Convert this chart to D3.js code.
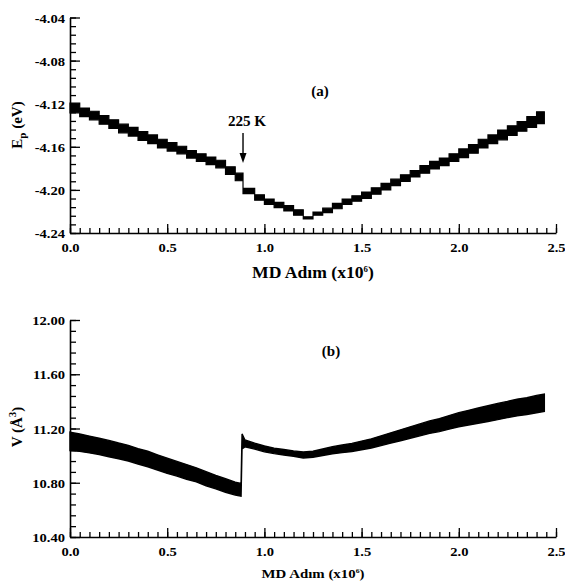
<!DOCTYPE html>
<html>
<head>
<meta charset="utf-8">
<script src="https://cdn.jsdelivr.net/npm/d3@7"></script>
<style>
  body { margin: 0; background: #fff; }
  svg { display: block; }
  text { font-family: "Liberation Serif", "Times New Roman", serif; font-weight: bold; fill: #000; }
</style>
</head>
<body>
<svg id="chart" width="565" height="584"></svg>
<script>
// x axis (MD steps, x10^6)
var xTicks = [0, 0.5, 1.0, 1.5, 2.0, 2.5];
var xTickLabels = ["0.0", "0.5", "1.0", "1.5", "2.0", "2.5"];

// panel (a): potential energy, stepped band (step start, middle, half thickness)
var epX = [0.00,0.05,0.10,0.15,0.20,0.25,0.30,0.35,0.40,0.45,0.50,0.55,0.60,0.65,0.70,0.75,0.80,0.85,
           0.89,0.95,1.00,1.05,1.10,1.15,1.20,1.25,1.30,1.35,1.40,1.45,1.50,1.55,1.60,1.65,1.70,1.75,
           1.80,1.85,1.90,1.95,2.00,2.05,2.10,2.15,2.20,2.25,2.30,2.35,2.40,2.44];
var epMid = [-4.124,-4.128,-4.131,-4.135,-4.139,-4.143,-4.146,-4.150,-4.153,-4.157,-4.160,-4.163,-4.167,-4.170,-4.173,-4.176,-4.182,-4.188,
             -4.201,-4.207,-4.211,-4.214,-4.217,-4.221,-4.226,-4.222,-4.219,-4.215,-4.211,-4.208,-4.205,-4.201,-4.197,-4.193,-4.189,-4.185,
             -4.181,-4.177,-4.174,-4.170,-4.166,-4.162,-4.157,-4.153,-4.149,-4.145,-4.141,-4.137,-4.133,-4.133];
var epHalf = [0.0045,0.004,0.004,0.004,0.004,0.004,0.004,0.004,0.004,0.004,0.004,0.0035,0.0035,0.0035,0.0035,0.0035,0.0035,0.0035,
              0.0025,0.0025,0.0025,0.0025,0.0025,0.0025,0.001,0.0015,0.002,0.0025,0.0025,0.0025,0.003,0.003,0.003,0.003,0.003,0.003,
              0.0035,0.0035,0.0035,0.0035,0.004,0.004,0.004,0.004,0.0045,0.0045,0.0045,0.005,0.0055,0.0055];
var epTicks = [-4.24, -4.20, -4.16, -4.12, -4.08, -4.04];
var epTickLabels = ["-4.24", "-4.20", "-4.16", "-4.12", "-4.08", "-4.04"];

// panel (b): volume band
var vX = [0.00,0.05,0.10,0.15,0.20,0.25,0.30,0.35,0.40,0.45,0.50,0.55,0.60,0.65,0.70,0.75,0.80,0.85,0.88,
          0.885,0.90,0.95,1.00,1.05,1.10,1.15,1.20,1.25,1.30,1.35,1.40,1.45,1.50,1.55,1.60,1.65,1.70,1.75,
          1.80,1.85,1.90,1.95,2.00,2.05,2.10,2.15,2.20,2.25,2.30,2.35,2.40,2.44];
var vMid = [11.105,11.095,11.082,11.068,11.052,11.035,11.018,10.995,10.975,10.950,10.925,10.903,10.880,10.858,10.830,10.805,10.780,10.757,10.748,
            11.105,11.090,11.070,11.050,11.035,11.025,11.015,11.005,11.010,11.025,11.040,11.050,11.060,11.075,11.090,11.110,11.130,11.150,11.170,
            11.190,11.210,11.225,11.245,11.265,11.280,11.295,11.310,11.325,11.340,11.355,11.365,11.380,11.390];
var vHalf = [0.068,0.064,0.062,0.06,0.06,0.058,0.058,0.057,0.057,0.056,0.056,0.054,0.054,0.052,0.052,0.05,0.05,0.048,0.047,
             0.055,0.025,0.022,0.022,0.02,0.02,0.02,0.022,0.022,0.024,0.026,0.028,0.03,0.032,0.034,0.036,0.038,0.04,0.042,
             0.044,0.046,0.048,0.05,0.052,0.054,0.056,0.058,0.06,0.06,0.062,0.062,0.064,0.064];
var vTicks = [10.40, 10.80, 11.20, 11.60, 12.00];
var vTickLabels = ["10.40", "10.80", "11.20", "11.60", "12.00"];

var svg = d3.select("#chart");

var x = d3.scaleLinear().domain([0, 2.5]).range([70, 556]);
var yEp = d3.scaleLinear().domain([-4.24, -4.04]).range([233, 17.5]);
var yV = d3.scaleLinear().domain([10.40, 12.00]).range([537, 320]);

//widen text a bit, the original print is stretched sideways
function stretch(sel, k){
    sel.each(function(){
        var w = this.getComputedTextLength();
        d3.select(this).attr("textLength", w * k).attr("lengthAdjust", "spacingAndGlyphs");
    });
}

function drawAxes(yScale, yTicks, yLabels, yMinorStep, baseY){
    var g = svg.append("g");

    //minor ticks
    var xMinor = d3.range(0, 2.5001, 0.05);
    g.append("g")
        .attr("transform", "translate(0," + baseY + ")")
        .call(d3.axisBottom(x).tickValues(xMinor).tickSize(-5).tickFormat(""))
        .call(function(a){ a.select(".domain").remove(); });
    var yMinor = d3.range(yTicks[0], yTicks[yTicks.length - 1] + yMinorStep / 2, yMinorStep);
    g.append("g")
        .attr("transform", "translate(70,0)")
        .call(d3.axisLeft(yScale).tickValues(yMinor).tickSize(-6).tickFormat(""))
        .call(function(a){ a.select(".domain").remove(); });

    //major ticks with labels
    g.append("g")
        .attr("transform", "translate(0," + baseY + ")")
        .call(d3.axisBottom(x).tickValues(xTicks).tickSizeInner(-9).tickSizeOuter(0).tickPadding(10)
            .tickFormat(function(d, i){ return xTickLabels[i]; }));
    var ay = g.append("g")
        .attr("transform", "translate(70,0)")
        .call(d3.axisLeft(yScale).tickValues(yTicks).tickSizeInner(-10).tickSizeOuter(0).tickPadding(5)
            .tickFormat(function(d, i){ return yLabels[i]; }));

    g.selectAll(".tick line").attr("stroke", "#000").attr("stroke-width", 1.3);
    g.selectAll(".domain").attr("stroke", "#000").attr("stroke-width", 1.6);
    g.selectAll(".tick text").attr("font-size", 13).attr("font-family", "Liberation Serif").attr("font-weight", "bold");
    ay.selectAll(".tick text").attr("dy", "0.36em");
    stretch(g.selectAll(".tick text"), 1.12);
}

drawAxes(yEp, epTicks, epTickLabels, 0.008, 233);
drawAxes(yV, vTicks, vTickLabels, 0.08, 537);

// panel (a) stepped band
var epData = epX.map(function(d, i){ return {x: d, lo: epMid[i] - epHalf[i], hi: epMid[i] + epHalf[i]}; });
var epArea = d3.area()
    .curve(d3.curveStepAfter)
    .x(function(d){ return x(d.x); })
    .y0(function(d){ return yEp(d.lo); })
    .y1(function(d){ return yEp(d.hi); });
svg.append("path")
    .datum(epData)
    .attr("d", epArea)
    .attr("fill", "#000")
    .attr("stroke", "#000")
    .attr("stroke-width", 1.2);

// panel (b) band
var vData = vX.map(function(d, i){ return {x: d, lo: vMid[i] - vHalf[i], hi: vMid[i] + vHalf[i]}; });
var vArea = d3.area()
    .x(function(d){ return x(d.x); })
    .y0(function(d){ return yV(d.lo); })
    .y1(function(d){ return yV(d.hi); });
svg.append("path")
    .datum(vData)
    .attr("d", vArea)
    .attr("fill", "#000")
    .attr("stroke", "#000")
    .attr("stroke-width", 1.4);

// panel labels
svg.append("text").attr("x", 320).attr("y", 96).attr("text-anchor", "middle")
    .attr("font-size", 15).text("(a)");
svg.append("text").attr("x", 331).attr("y", 356).attr("text-anchor", "middle")
    .attr("font-size", 15).text("(b)");

// 225 K arrow
var arrowX = x(0.89);
svg.append("text").attr("x", arrowX + 4).attr("y", 126).attr("text-anchor", "middle")
    .attr("font-size", 14).text("225 K").call(stretch, 1.08);
svg.append("line").attr("x1", arrowX).attr("x2", arrowX).attr("y1", 133).attr("y2", 156)
    .attr("stroke", "#000").attr("stroke-width", 1.4);
svg.append("path")
    .attr("d", "M" + (arrowX - 3.5) + ",153 L" + (arrowX + 3.5) + ",153 L" + arrowX + ",163 Z")
    .attr("fill", "#000");

// x titles
function xTitle(y, size, supSize){
    var t = svg.append("text").attr("x", 313).attr("y", y).attr("text-anchor", "middle")
        .attr("font-size", size);
    t.append("tspan").text("MD Ad\u0131m (x10");
    t.append("tspan").attr("font-size", supSize).attr("dy", -size * 0.4).text("6");
    t.append("tspan").attr("dy", size * 0.4).text(")");
    return t;
}
xTitle(278, 16, 8).call(stretch, 1.1);
xTitle(578, 13.5, 7).call(stretch, 1.1);

// y titles
var t1 = svg.append("text").attr("transform", "translate(22,125) rotate(-90)")
    .attr("text-anchor", "middle").attr("font-size", 15);
t1.append("tspan").text("E");
t1.append("tspan").attr("font-size", 11).attr("dy", 4).text("p");
t1.append("tspan").attr("dy", -4).text(" (eV)");

var t2 = svg.append("text").attr("transform", "translate(22,427) rotate(-90)")
    .attr("text-anchor", "middle").attr("font-size", 15);
t2.append("tspan").text("V (\u00C5");
t2.append("tspan").attr("font-size", 11).attr("dy", -6).text("3");
t2.append("tspan").attr("dy", 6).text(")");
</script>
</body>
</html>
